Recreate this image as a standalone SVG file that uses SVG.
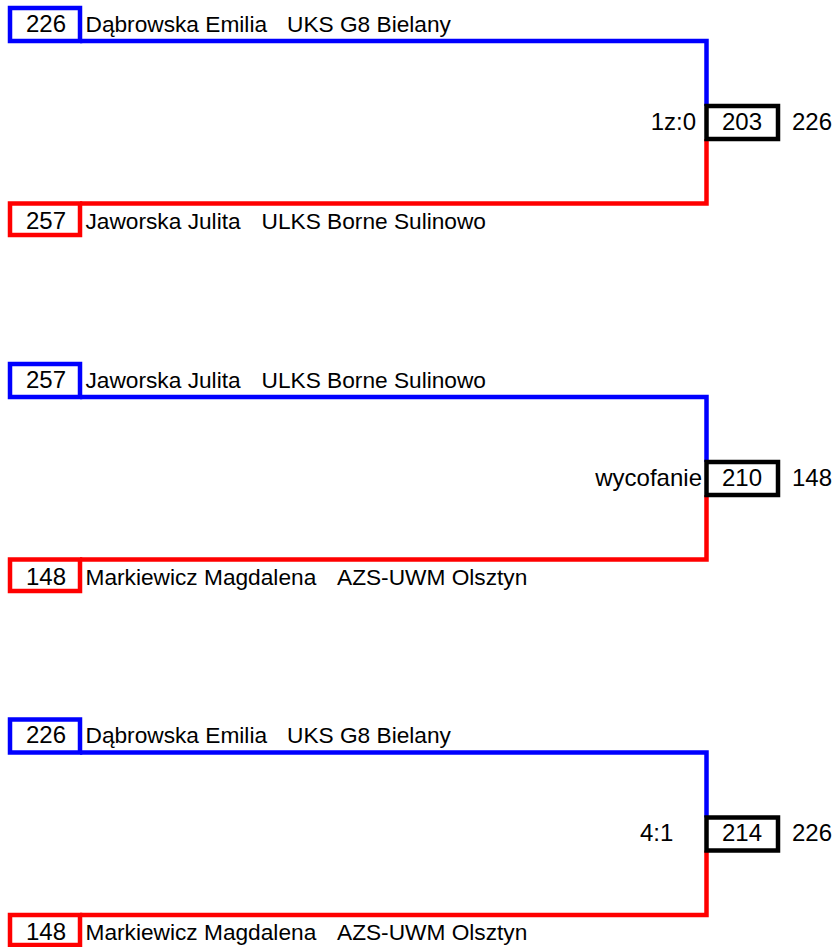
<svg xmlns="http://www.w3.org/2000/svg" width="839" height="947" viewBox="0 0 839 947">
<style>
text{font-family:"Liberation Sans",Arial,sans-serif;font-size:22.7px;fill:#000}
.n{font-size:24px}
.b{fill:none;stroke:#0000ff;stroke-width:4.5}
.r{fill:none;stroke:#ff0000;stroke-width:4.5}
.k{fill:#fff;stroke:#000;stroke-width:4.5}
.e{text-anchor:end}
</style>
<rect width="839" height="947" fill="#fff"/>
<g id="connectors">
<path class="b" d="M80,41 H706.5 V106"/>
<path class="r" d="M706.5,139 V203.5 H80"/>
<path class="b" d="M80,397 H706.5 V462"/>
<path class="r" d="M706.5,495 V559.5 H80"/>
<path class="b" d="M80,752.5 H706.5 V817.5"/>
<path class="r" d="M706.5,850.5 V915 H80"/>
</g>
<g id="m1">
<g id="m1-top"><rect class="b" x="10" y="8" width="70" height="33"/><text class="n" x="26" y="31.5">226</text><text x="85.5" y="31.5">Dąbrowska Emilia</text><text x="287" y="31.5">UKS G8 Bielany</text></g>
<g id="m1-bottom"><rect class="r" x="10" y="203.5" width="70" height="31.5"/><text class="n" x="26" y="229">257</text><text x="85.5" y="229">Jaworska Julita</text><text x="261.5" y="229">ULKS Borne Sulinowo</text></g>
<g id="m1-result"><rect class="k" x="706.5" y="106" width="71.5" height="33"/><text class="n" x="722" y="129.5">203</text><text class="n e" x="696" y="129.5">1z:0</text><text class="n" x="792" y="129.5">226</text></g>
</g>
<g id="m2">
<g id="m2-top"><rect class="b" x="10" y="364" width="70" height="33"/><text class="n" x="26" y="387.5">257</text><text x="85.5" y="387.5">Jaworska Julita</text><text x="261.5" y="387.5">ULKS Borne Sulinowo</text></g>
<g id="m2-bottom"><rect class="r" x="10" y="559.5" width="70" height="31.5"/><text class="n" x="26" y="585">148</text><text x="85.5" y="585">Markiewicz Magdalena</text><text x="337" y="585">AZS-UWM Olsztyn</text></g>
<g id="m2-result"><rect class="k" x="706.5" y="462" width="71.5" height="33"/><text class="n" x="722" y="485.5">210</text><text class="n e" x="702" y="485.5">wycofanie</text><text class="n" x="792" y="485.5">148</text></g>
</g>
<g id="m3">
<g id="m3-top"><rect class="b" x="10" y="719.5" width="70" height="33"/><text class="n" x="26" y="743">226</text><text x="85.5" y="743">Dąbrowska Emilia</text><text x="287" y="743">UKS G8 Bielany</text></g>
<g id="m3-bottom"><rect class="r" x="10" y="915" width="70" height="30"/><text class="n" x="26" y="940">148</text><text x="85.5" y="940">Markiewicz Magdalena</text><text x="337" y="940">AZS-UWM Olsztyn</text></g>
<g id="m3-result"><rect class="k" x="706.5" y="817.5" width="71.5" height="33"/><text class="n" x="722" y="841">214</text><text class="n" x="640" y="841">4:1</text><text class="n" x="792" y="841">226</text></g>
</g>
</svg>
